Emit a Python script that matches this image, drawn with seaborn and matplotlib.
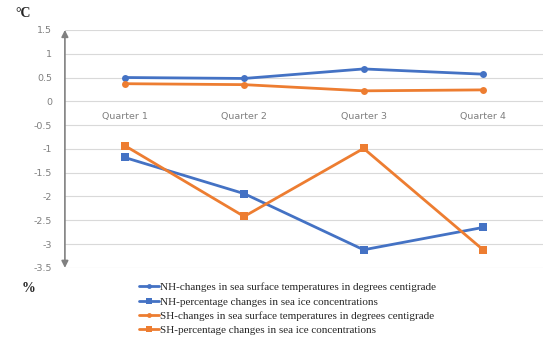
import numpy as np
import pandas as pd
import matplotlib
matplotlib.use("Agg")
import matplotlib.pyplot as plt
import seaborn as sns

quarters = ["Quarter 1", "Quarter 2", "Quarter 3", "Quarter 4"]
nh_sst = [0.50, 0.48, 0.68, 0.57]
nh_ice = [-1.18, -1.94, -3.12, -2.65]
sh_sst = [0.37, 0.35, 0.22, 0.24]
sh_ice = [-0.93, -2.42, -0.99, -3.12]

series = [
    ("NH-changes in sea surface temperatures in degrees centigrade", nh_sst, "#4472C4", "o", 5),
    ("NH-percentage changes in sea ice concentrations", nh_ice, "#4472C4", "s", 6),
    ("SH-changes in sea surface temperatures in degrees centigrade", sh_sst, "#ED7D31", "o", 5),
    ("SH-percentage changes in sea ice concentrations", sh_ice, "#ED7D31", "s", 6),
]

sns.set_style("white")
fig = plt.figure(figsize=(5.5, 3.52), dpi=100)
ax = fig.add_axes([0.118, 0.239, 0.869, 0.676])

for label, vals, color, marker, ms in series:
    df = pd.DataFrame({"quarter": quarters, "value": vals})
    sns.lineplot(data=df, x="quarter", y="value", ax=ax, color=color, marker=marker,
                 markersize=ms, markeredgewidth=0, linewidth=2, label=label, sort=False)

ax.set_xlim(-0.5, 3.5)
ax.set_ylim(-3.5, 1.5)
ax.set_yticks(np.arange(-3.5, 1.51, 0.5))
ax.set_yticklabels([f"{v:g}" for v in np.arange(-3.5, 1.51, 0.5)])
ax.yaxis.grid(True, color="#d9d9d9", linewidth=0.8)
ax.set_axisbelow(True)
ax.set_xlabel("")
ax.set_ylabel("")

for s in ["top", "right", "left"]:
    ax.spines[s].set_visible(False)
ax.spines["bottom"].set_position(("data", 0))
ax.spines["bottom"].set_visible(False)
ax.tick_params(axis="both", length=0, labelsize=6.8, labelcolor="#7f7f7f")
ax.tick_params(axis="x", pad=8)
ax.tick_params(axis="y", pad=9)

ax.annotate("", xy=(0, 1.0), xytext=(0, 0.0), xycoords="axes fraction",
            arrowprops=dict(arrowstyle="<|-|>", color="#808080", lw=1.2,
                            mutation_scale=10, shrinkA=0, shrinkB=0))

fig.text(0.028, 0.962, "°C", fontsize=10, fontweight="bold", family="Liberation Serif", va="center")
fig.text(0.04, 0.18, "%", fontsize=10, fontweight="bold", family="Liberation Serif", va="center")

ax.legend(loc="upper left", bbox_to_anchor=(0.245, 0.21), bbox_transform=fig.transFigure,
          frameon=False, prop={"family": "Liberation Serif", "size": 8},
          handlelength=1.8, handletextpad=0.1, labelspacing=0.4, borderaxespad=0,
          markerscale=0.7)

fig.savefig("out.png", dpi=100)
